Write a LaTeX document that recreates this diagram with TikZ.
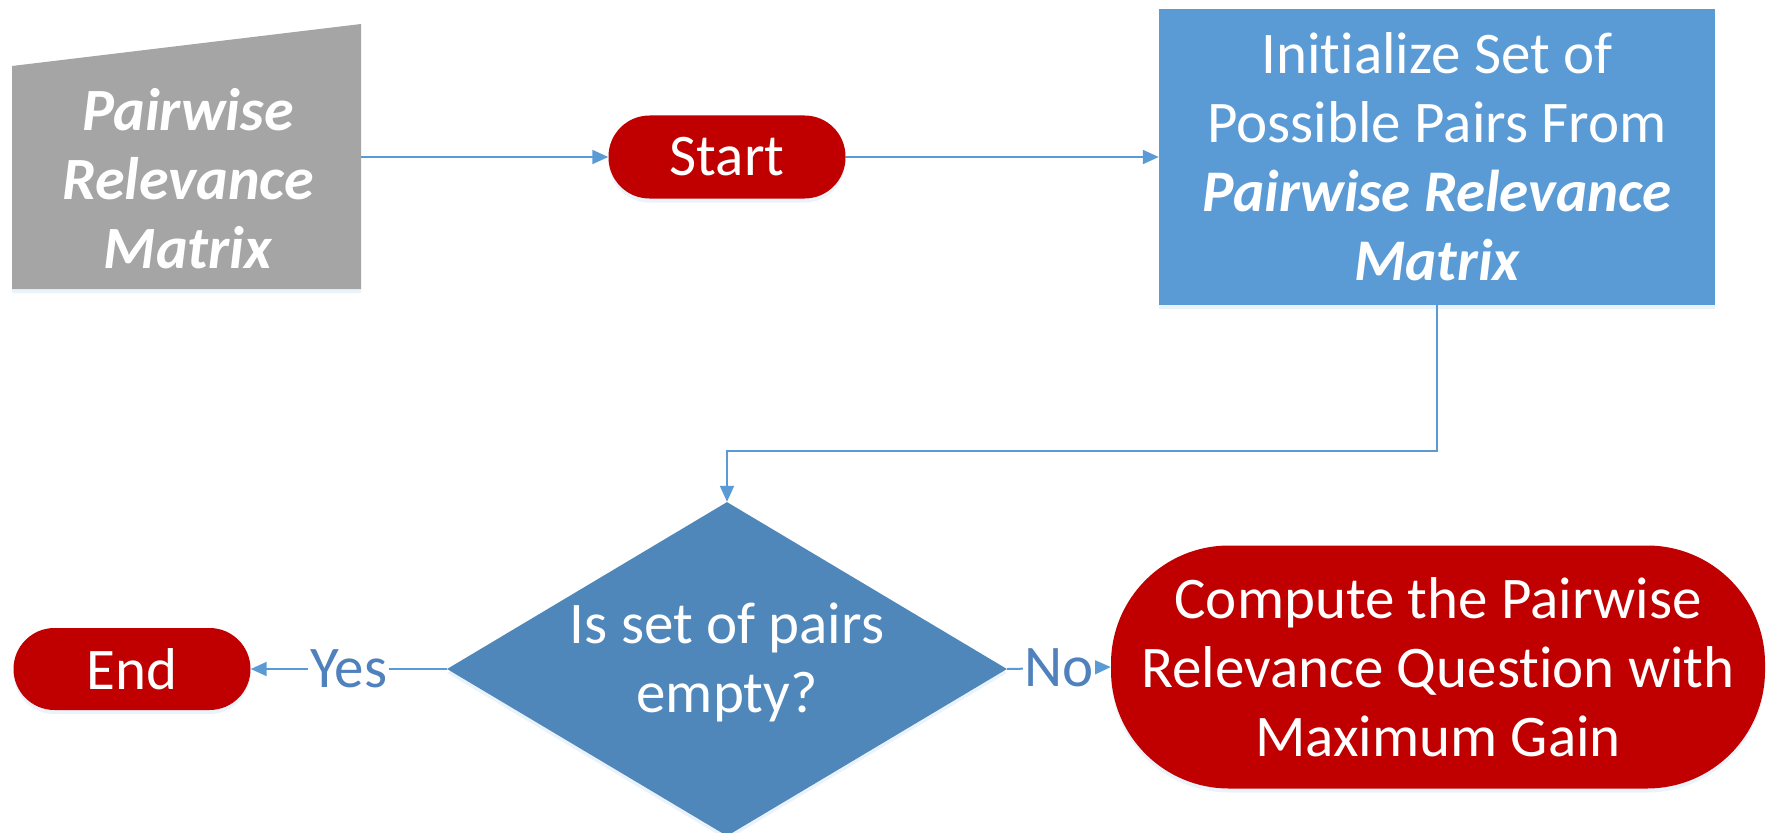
\documentclass[tikz,border=0pt]{standalone}
\usepackage{fontspec}
\setmainfont{Carlito}[Ligatures=NoCommon]
\usetikzlibrary{arrows.meta,shapes.geometric,shadows}
\definecolor{inputgray}{HTML}{A5A5A5}
\definecolor{termred}{HTML}{C00000}
\definecolor{procblue}{HTML}{5B9BD5}
\definecolor{decblue}{HTML}{4F87BA}
\definecolor{linkblue}{HTML}{5B9BD5}
\definecolor{labelblue}{HTML}{4F81BD}
\begin{document}
\begin{tikzpicture}[x=1pt,y=-1pt,
  bigfont/.style={font=\fontsize{59}{69}\selectfont},
  txt/.style={text=white,bigfont,align=center,inner sep=0pt},
  soft/.style={drop shadow={opacity=0.12,shadow xshift=0pt,shadow yshift=-4pt,fill=procblue}},
  terminal/.style={txt,fill=termred,rectangle,soft},
  process/.style={txt,fill=procblue,rectangle,soft},
  decision/.style={fill=decblue,diamond,aspect=1.677,inner sep=0pt,soft},
  link/.style={draw=linkblue,line width=2pt,-{Triangle[length=16pt,width=14pt]}},
  tag/.style={text=labelblue,fill=white,bigfont,inner sep=2pt}]
\useasboundingbox (0,0) rectangle (1768,832);

% manual input shape
\fill[inputgray,soft] (12,66) -- (361,24) -- (361,289) -- (12,289) -- cycle;
\node[txt,font=\fontsize{60}{69}\selectfont\bfseries\itshape] (inp) at (188,179)
  {Pairwise\\Relevance\\Matrix};
\coordinate (inpE) at (361,157);

% flow nodes
\node[terminal,rounded corners=41pt,minimum width=237pt,minimum height=83pt] (start) at (727,157) {Start};
\node[process,minimum width=556pt,minimum height=295pt] (init) at (1437,157)
  {Initialize Set of\\Possible Pairs From\\{\bfseries\itshape Pairwise Relevance}\\{\bfseries\itshape Matrix}};
\node[decision,minimum width=560pt,minimum height=334pt] (dec) at (727,669) {};
\node[txt] (dectext) at (727,662) {Is set of pairs\\empty?};
\node[terminal,rounded corners=41pt,minimum width=237pt,minimum height=82pt] (end) at (132,669) {End};
\node[terminal,rounded corners=118pt,minimum width=654pt,minimum height=243pt] (comp) at (1438,667)
  {Compute the Pairwise\\Relevance Question with\\Maximum Gain};

% connectors
\coordinate (bend) at (1437,451);
\draw[link] (inpE) -- (start.west);
\draw[link] (start.east) -- (init.west);
\draw[link] (init.south) -- (bend) -| (dec.north);
\draw[link] (dec.west) -- node[tag] {Yes} (end.east);
\draw[link] (dec.east) -- node[tag,inner sep=1pt] {No} (comp.west);
\end{tikzpicture}
\end{document}
